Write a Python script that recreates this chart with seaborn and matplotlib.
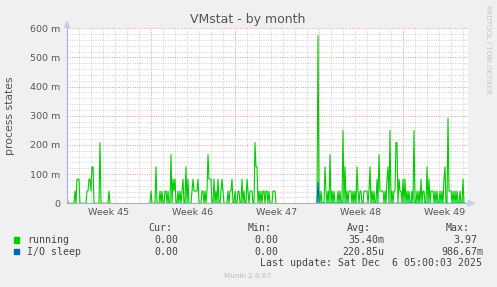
import numpy as np
import pandas as pd
import matplotlib
matplotlib.use("Agg")
import matplotlib.pyplot as plt
from matplotlib.patches import Polygon, Rectangle
import seaborn as sns

# ---------------- data (2-hour samples, values in milli "m") ----------------
segments = [(0, 43), (81, 209), (250, 398)]   # sample index ranges with data

running_idx = [0, 8, 10, 11, 12, 20, 21, 22, 23, 24, 25, 26, 33, 42,
               84, 89, 93, 95, 98, 99, 101, 104, 106, 107, 108, 111, 113, 115, 116, 119,
               121, 125, 126, 127, 128, 129, 130, 131, 135, 136, 138, 140, 141, 142, 143,
               144, 147, 149, 151, 154, 155, 156, 161, 163, 164, 165, 168, 171, 172, 175,
               177, 180, 181, 183, 184, 185, 188, 189, 190, 192, 194, 196, 197, 199, 200,
               202, 206, 207, 208,
               251, 252, 254, 258, 259, 261, 263, 265, 267, 271, 273, 276, 278, 280, 282,
               283, 284, 286, 288, 290, 291, 293, 294, 297, 298, 299, 300, 302, 303, 305,
               307, 310, 312, 313, 314, 315, 316, 318, 320, 321, 323, 325, 327, 328, 329,
               330, 332, 333, 334, 336, 338, 340, 342, 345, 347, 350, 352, 354, 356, 357,
               360, 362, 364, 365, 366, 368, 370, 373, 375, 377, 378, 381, 382, 383, 384,
               386, 388, 390, 393, 396]
running_val = [30, 42, 83, 83, 83, 42, 42, 83, 83, 42, 125, 125, 208, 42,
               42, 125, 42, 42, 42, 42, 42, 167, 83, 42, 83, 42, 42, 42, 83, 125,
               83, 42, 83, 42, 42, 42, 42, 83, 42, 42, 42, 42, 167, 83, 83,
               83, 83, 42, 83, 42, 83, 42, 42, 42, 42, 83, 42, 42, 42, 83,
               42, 83, 42, 42, 42, 42, 208, 125, 125, 42, 42, 42, 42, 42, 42,
               42, 42, 42, 42,
               575, 42, 42, 125, 42, 42, 167, 42, 42, 42, 42, 250, 125, 42, 42,
               42, 42, 42, 42, 125, 42, 42, 42, 42, 42, 42, 42, 42, 125, 42,
               42, 83, 167, 42, 42, 42, 42, 42, 83, 125, 250, 42, 42, 42, 208,
               208, 83, 42, 42, 83, 83, 42, 42, 42, 250, 42, 42, 83, 42, 42,
               125, 83, 42, 42, 42, 42, 42, 42, 42, 83, 125, 292, 42, 42, 42,
               42, 42, 42, 42, 83]
iosleep_idx = [251]
iosleep_val = [72]

series_names = ["running", "I/O sleep"]
series_colors = ["#00CC00", "#0066B3"]

week_labels = ["Week 45", "Week 46", "Week 47", "Week 48", "Week 49"]
y_ticks = [0, 100, 200, 300, 400, 500, 600]
y_ticklabels = ["0", "100 m", "200 m", "300 m", "400 m", "500 m", "600 m"]

legend_rows = [
    ("running", "0.00", "0.00", "35.40m", "3.97"),
    ("I/O sleep", "0.00", "0.00", "220.85u", "986.67m"),
]
last_update = "Last update: Sat Dec  6 05:00:03 2025"

# ---------------- build frame ----------------
rows = []
for name, idxs, vals in [("running", running_idx, running_val),
                         ("I/O sleep", iosleep_idx, iosleep_val)]:
    lookup = dict(zip(idxs, vals))
    for s, (a, b) in enumerate(segments):
        for i in range(a, b + 1):
            rows.append({"hours": i * 2.0, "value": lookup.get(i, 0.0),
                         "series": name, "seg": s})
df = pd.DataFrame(rows)

# ---------------- figure ----------------
sns.set_theme(style="white")
plt.rcParams["font.family"] = ["DejaVu Sans"]

W, H = 497, 287
fig = plt.figure(figsize=(W / 100, H / 100), dpi=100, facecolor="#F0F0F0")
ax = fig.add_axes([67 / W, (H - 203.3) / H, 401 / W, 175 / H])
ax.set_facecolor("white")

XMAX = 802
ax.set_xlim(0, XMAX)
ax.set_ylim(0, 600)

# grid
ax.set_xticks([0, 168, 336, 504, 672])
ax.set_xticks(np.arange(0, XMAX, 24), minor=True)
ax.set_yticks(y_ticks)
ax.set_yticklabels(y_ticklabels)
ax.set_yticks(np.arange(0, 601, 20), minor=True)
ax.set_xticklabels([])
ax.set_axisbelow(True)
ax.grid(which="minor", color="#CFCFCF", linestyle=(0, (1, 1.4)), linewidth=0.7)
ax.grid(which="major", color="#E39A9A", linestyle=(0, (1, 1.4)), linewidth=0.7)

ax.tick_params(axis="y", which="major", length=2, color="#E8A0A0", pad=3,
               labelsize=6.8, labelcolor="#555555")
ax.tick_params(axis="y", which="minor", length=0)
ax.tick_params(axis="x", which="major", length=2, color="#E08080", pad=1)
ax.tick_params(axis="x", which="minor", length=0)
ax.tick_params(axis="both", direction="out")

for sp in ["top", "right"]:
    ax.spines[sp].set_visible(False)
for sp in ["left", "bottom"]:
    ax.spines[sp].set_color("#A8AEE0")
    ax.spines[sp].set_linewidth(0.8)

sns.lineplot(data=df, x="hours", y="value", hue="series", units="seg",
             estimator=None, hue_order=series_names, palette=series_colors,
             linewidth=0.8, legend=False, ax=ax, sort=True)
ax.set_xlabel("")
ax.set_ylabel("process states", fontsize=7.8, color="#555555")
ax.yaxis.set_label_coords((15.5 - 67) / 401, 0.5)

# week labels
for k, lab in enumerate(week_labels):
    ax.text(84 + 168 * k, -9.3 / 175 * 600, lab, ha="center", va="center",
            fontsize=6.8, color="#555555")

# axis arrows (pixel coords)
fig.patches.append(Polygon([(64.5, H - 27.5), (69.5, H - 27.5), (67, H - 21.5)],
                           closed=True, transform=None, color="#C8CCF0"))
fig.patches.append(Polygon([(468, H - 200.5), (468, H - 206.3), (474, H - 203.3)],
                           closed=True, transform=None, color="#C8CCF0"))

# title
fig.text(248 / W, 1 - 19 / H, "VMstat - by month", ha="center", va="center",
         fontsize=9, color="#555555")

# watermark
fig.text(488 / W, 1 - 5 / H, "RRDTOOL / TOBI OETIKER", rotation=270,
         ha="center", va="top", fontsize=5, color="#C4C4C4")

# legend block
mono = dict(family="DejaVu Sans Mono", fontsize=7.1, color="#444444")
def ft(x, y, s, ha="right", **kw):
    d = dict(mono); d.update(kw)
    fig.text(x / W, 1 - y / H, s, ha=ha, va="center", **d)

ft(172, 228.3, "Cur:")
ft(272, 228.3, "Min:")
ft(371, 228.3, "Avg:")
ft(470, 228.3, "Max:")
row_y = [240, 251.7]
for r, (row, yy) in enumerate(zip(legend_rows, row_y)):
    fig.patches.append(Rectangle((14, H - yy - 2.7), 5.3, 5.3, transform=None,
                                 color=series_colors[r]))
    ft(27, yy, row[0], ha="left")
    ft(178.5, yy, row[1])
    ft(278.5, yy, row[2])
    ft(384.5, yy, row[3])
    ft(477 if r == 0 else 483, yy, row[4])
ft(482.5, 263.3, last_update)
fig.text(248 / W, 1 - 276.3 / H, "Munin 2.0.67", ha="center", va="center",
         fontsize=5.2, color="#BBBBBB")

fig.savefig("out.png", dpi=100, facecolor=fig.get_facecolor())
